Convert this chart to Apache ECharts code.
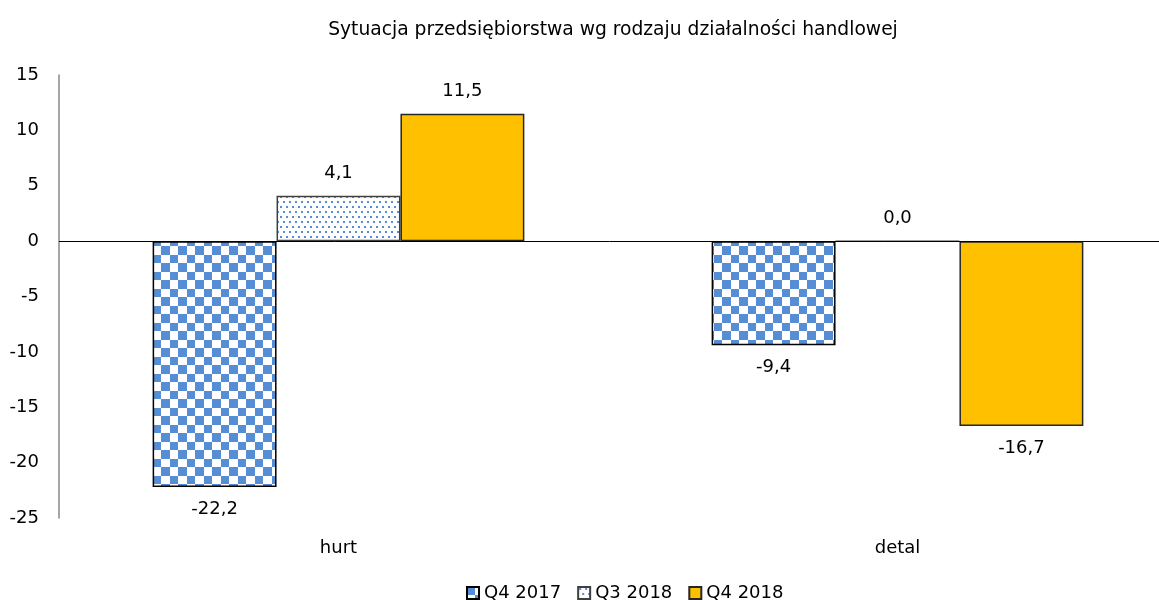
<!DOCTYPE html>
<html>
<head>
<meta charset="utf-8">
<script src="https://cdn.jsdelivr.net/npm/echarts@6/dist/echarts.min.js"></script>
<style>
  html, body { margin: 0; padding: 0; background: #fff; }
  #chart { width: 1159px; height: 600px; }
</style>
</head>
<body>
<div id="chart"></div>
<script>
// ----- data -----
const categories = ['hurt', 'detal']
const seriesNames = ['Q4 2017', 'Q3 2018', 'Q4 2018']
const q4_2017 = [-22.2, -9.4]
const q3_2018 = [4.1, 0.0]
const q4_2018 = [11.5, -16.7]
const yMin = -25
const yMax = 15
const yStep = 5

const FONT = "'DejaVu Sans', sans-serif"
const BLUE = '#558ed5'

// checkerboard fill (Q4 2017)
const makeChecker = () => {
  const c = document.createElement('canvas')
  c.width = 17
  c.height = 17
  const ctx = c.getContext('2d')
  ctx.fillStyle = '#fff'
  ctx.fillRect(0, 0, 17, 17)
  ctx.fillStyle = BLUE
  ctx.fillRect(0, 0, 8, 8)
  ctx.fillRect(8, 8, 9, 9)
  return c
}

// small dots fill (Q3 2018)
const makeDots = () => {
  const c = document.createElement('canvas')
  c.width = 12
  c.height = 10
  const ctx = c.getContext('2d')
  ctx.fillStyle = '#fff'
  ctx.fillRect(0, 0, 12, 10)
  ctx.fillStyle = BLUE
  ctx.fillRect(1, 1, 2, 2)
  ctx.fillRect(7, 1, 2, 2)
  ctx.fillRect(4, 6, 2, 2)
  ctx.fillRect(10, 6, 2, 2)
  return c
}

const fills = [
  { image: makeChecker(), repeat: 'repeat' },
  { image: makeDots(), repeat: 'repeat' },
  '#ffc000'
]
const borders = ['#000', '#404040', '#262626']

const fmt = v => v.toFixed(1).replace('.', ',')

const toItems = arr => arr.map(v => ({
  value: v,
  label: { position: v < 0 ? 'bottom' : 'top' }
}))

const values = [q4_2017, q3_2018, q4_2018]

const series = values.map((arr, i) => ({
  name: seriesNames[i],
  type: 'bar',
  barGap: '0%',
  barCategoryGap: '33.5%',
  itemStyle: {
    color: fills[i],
    borderColor: borders[i],
    borderWidth: 1.5
  },
  label: {
    show: true,
    distance: 13,
    color: '#000',
    fontFamily: FONT,
    fontSize: 18,
    formatter: p => fmt(p.value)
  },
  data: toItems(arr)
}))

// zero line
series[0].markLine = {
  silent: true,
  symbol: 'none',
  label: { show: false },
  lineStyle: { color: '#000', width: 1, type: 'solid' },
  data: [{ yAxis: 0 }]
}

const chart = echarts.init(document.getElementById('chart'))
chart.setOption({
  animation: false,
  title: {
    text: 'Sytuacja przedsiębiorstwa wg rodzaju działalności handlowej',
    left: 608,
    top: 16,
    textAlign: 'center',
    textStyle: { fontFamily: FONT, fontSize: 18.7, fontWeight: 'normal', color: '#000' }
  },
  legend: {
    data: seriesNames,
    icon: 'rect',
    left: 461,
    top: 579,
    itemWidth: 12,
    itemHeight: 12,
    itemGap: 16,
    textStyle: { fontFamily: FONT, fontSize: 18, color: '#000' }
  },
  grid: {
    left: 59, width: 1118, top: 75, bottom: 82,
    containLabel: false,
    outerBoundsMode: 'none'
  },
  xAxis: {
    type: 'category',
    data: categories,
    axisLine: { show: false, onZero: false },
    axisTick: { show: false },
    axisLabel: { margin: 21, color: '#000', fontFamily: FONT, fontSize: 18 }
  },
  yAxis: {
    type: 'value',
    min: yMin,
    max: yMax,
    interval: yStep,
    axisLine: { show: true, lineStyle: { color: '#888', width: 1.5 } },
    axisTick: { show: false },
    splitLine: { show: false },
    axisLabel: { margin: 20, color: '#000', fontFamily: FONT, fontSize: 18 }
  },
  series: series
})
</script>
</body>
</html>
